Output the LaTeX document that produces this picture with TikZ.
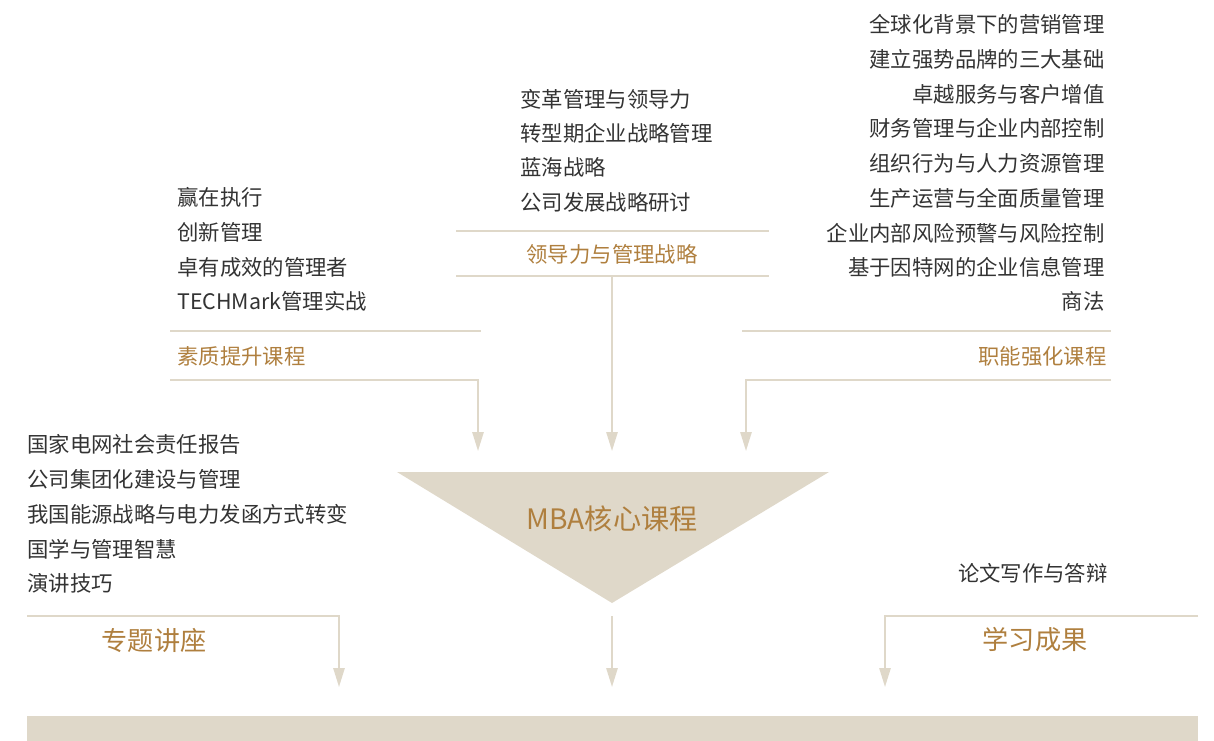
\documentclass[tikz,border=0pt]{standalone}
\usepackage{fontspec}
\setmainfont{Noto Sans CJK SC}
\usetikzlibrary{arrows.meta}
\definecolor{sand}{HTML}{DFD8C9}
\definecolor{gold}{HTML}{AF7F3E}
\definecolor{ink}{HTML}{333333}
\tikzset{
  item/.style={inner sep=0pt,text=ink,font=\fontsize{15.2}{18}\selectfont},
  head/.style={inner sep=0pt,text=gold,font=\fontsize{15.2}{18}\selectfont},
  bighead/.style={inner sep=0pt,text=gold,font=\fontsize{18.6}{22}\selectfont},
  rule/.style={draw=sand,line width=1.4pt},
  flow/.style={rule,-{Triangle[width=8pt,length=13.5pt]}}
}
\begin{document}
\begin{tikzpicture}[x=0.025cm,y=-0.025cm]
  \useasboundingbox (0,0) rectangle (1214,741);

  % left group
  \begin{scope}[every node/.style={item,anchor=west}]
    \node (l1) at (177,197) {赢在执行};
    \node (l2) at (177,232) {创新管理};
    \node (l3) at (177,267) {卓有成效的管理者};
    \node (l4) at (177,301) {TECHMark管理实战};
  \end{scope}
  \node[head,anchor=west] (lh) at (177,356) {素质提升课程};

  % middle group
  \begin{scope}[every node/.style={item,anchor=west}]
    \node (m1) at (520,99)  {变革管理与领导力};
    \node (m2) at (520,133) {转型期企业战略管理};
    \node (m3) at (520,167) {蓝海战略};
    \node (m4) at (520,202) {公司发展战略研讨};
  \end{scope}
  \node[head] (mh) at (612,254) {领导力与管理战略};

  % right group
  \begin{scope}[every node/.style={item,anchor=east}]
    \node (r1) at (1105,24)  {全球化背景下的营销管理};
    \node (r2) at (1105,59)  {建立强势品牌的三大基础};
    \node (r3) at (1105,94)  {卓越服务与客户增值};
    \node (r4) at (1105,128) {财务管理与企业内部控制};
    \node (r5) at (1105,163) {组织行为与人力资源管理};
    \node (r6) at (1105,198) {生产运营与全面质量管理};
    \node (r7) at (1105,233) {企业内部风险预警与风险控制};
    \node (r8) at (1105,267) {基于因特网的企业信息管理};
    \node (r9) at (1105,301) {商法};
  \end{scope}
  \node[head,anchor=east] (rh) at (1107,356) {职能强化课程};

  % lectures
  \begin{scope}[every node/.style={item,anchor=west}]
    \node (b1) at (27,444) {国家电网社会责任报告};
    \node (b2) at (27,479) {公司集团化建设与管理};
    \node (b3) at (27,514) {我国能源战略与电力发函方式转变};
    \node (b4) at (27,549) {国学与管理智慧};
    \node (b5) at (27,583) {演讲技巧};
  \end{scope}
  \node[bighead] (bh) at (154,640) {专题讲座};

  % results
  \node[item,anchor=east] (e1) at (1108,573) {论文写作与答辩};
  \node[bighead] (eh) at (1035,640) {学习成果};

  % core
  \fill[sand] (397,472) -- (829,472) -- (612,603) -- cycle;
  \node[inner sep=0pt,text=gold,font=\fontsize{20}{24}\selectfont] (core) at (612,519) {MBA核心课程};

  % rules and arrows
  \coordinate (la) at (170,331);
  \coordinate (lb) at (481,331);
  \coordinate (lc) at (170,380);
  \coordinate (ld) at (478,380);
  \coordinate (le) at (478,451);
  \coordinate (ma) at (456,231);
  \coordinate (mb) at (769,231);
  \coordinate (mc) at (456,276);
  \coordinate (md) at (769,276);
  \coordinate (mt) at (612,276);
  \coordinate (me) at (612,451);
  \coordinate (ra) at (742,331);
  \coordinate (rb) at (1111,331);
  \coordinate (rc) at (1111,380);
  \coordinate (rd) at (746,380);
  \coordinate (re) at (746,451);
  \coordinate (ba) at (27,616);
  \coordinate (bb) at (339,616);
  \coordinate (be) at (339,687);
  \coordinate (ca) at (612,616);
  \coordinate (ce) at (612,687);
  \coordinate (ea) at (1198,616);
  \coordinate (eb) at (885,616);
  \coordinate (ee) at (885,687);

  \draw[rule] (la) -- (lb);
  \draw[flow] (lc) -- (ld) -- (le);
  \draw[rule] (ma) -- (mb);
  \draw[rule] (mc) -- (md);
  \draw[flow] (mt) -- (me);
  \draw[rule] (ra) -- (rb);
  \draw[flow] (rc) -- (rd) -- (re);
  \draw[flow] (ba) -- (bb) -- (be);
  \draw[flow] (ca) -- (ce);
  \draw[flow] (ea) -- (eb) -- (ee);

  % base bar
  \fill[sand] (27,716) rectangle (1198,741);

\end{tikzpicture}
\end{document}
